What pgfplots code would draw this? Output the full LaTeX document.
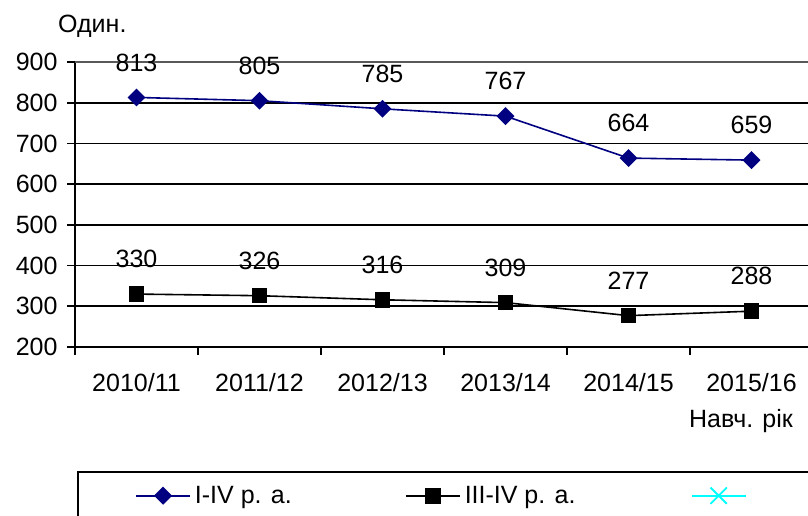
\documentclass[border=0pt]{standalone}
\usepackage{pgfplots}
\pgfplotsset{compat=1.18}
\usepackage{fontspec}
\setmainfont{Liberation Sans}
\definecolor{navyc}{RGB}{0,0,128}
\definecolor{cyc}{RGB}{0,255,255}
\newcommand{\ff}{\fontsize{25}{29}\selectfont}
\begin{document}
\begin{tikzpicture}
\useasboundingbox (0,0) rectangle (808pt,516pt);
\begin{axis}[
  at={(75pt,169pt)}, anchor=south west,
  scale only axis, width=738pt, height=285pt,
  xmin=-0.5, xmax=5.5, ymin=200, ymax=900,
  axis lines=left,
  axis line style={-, line width=1.6pt, black},
  ytick={200,300,...,800},
  extra y ticks={900},
  extra y tick style={grid style={gray!70!black, line width=1.6pt}},
  ymajorgrids,
  grid style={black, line width=1.6pt},
  xtick={-0.5,0.5,...,5.5},
  xticklabels={},
  extra x ticks={0,1,2,3,4,5},
  extra x tick labels={2010/11,2011/12,2012/13,2013/14,2014/15,2015/16},
  extra x tick style={major tick length=0pt, xticklabel style={anchor=center, yshift=-36pt}},
  tick align=outside,
  major tick length=8pt,
  tick style={black, line width=1.6pt},
  tick label style={font=\ff},
  yticklabel style={xshift=-6pt},
  /pgf/number format/assume math mode=true,
  clip=false,
  nodes near coords,
  every node near coord/.append style={font=\ff, black, anchor=center, yshift=35pt},
  legend columns=3,
  legend style={name=leg, at={(rel axis cs:0.004,-0.439)}, anchor=north west,
    draw=none, font=\ff, inner xsep=57pt, inner ysep=12pt,
    /tikz/every odd column/.append style={column sep=2pt}},
  legend cell align=left,
  legend image post style={line width=1.8pt},
  legend image code/.code={\draw[mark repeat=2,mark phase=2,#1] plot coordinates {(0pt,0pt)(27pt,0pt)(54pt,0pt)};},
]
\addplot[navyc, line width=1.6pt, mark=square*, mark size=5.5pt, mark options={rotate=45, fill=navyc}]
  coordinates {(0,813) (1,805) (2,785) (3,767) (4,664) (5,659)};
\addlegendentry{\makebox[208pt][l]{I-IV р. а.}}
\addplot[black, line width=1.6pt, mark=square*, mark size=7pt, mark options={fill=black}]
  coordinates {(0,330) (1,326) (2,316) (3,309) (4,277) (5,288)};
\addlegendentry{\makebox[224pt][l]{III-IV р. а.}}
\addlegendimage{cyc, line width=1.8pt, mark=x, mark size=11.5pt}
\addlegendentry{\makebox[200pt][l]{}}
\node[anchor=west, font=\ff, inner sep=0pt] at (rel axis cs:-0.023,1.126) {Один.};
\node[anchor=east, font=\ff, inner sep=0pt] at (rel axis cs:0.973,-0.26) {Навч. рік};
\end{axis}
\draw[line width=1.6pt] (leg.north west) rectangle ([yshift=-70pt]leg.north east);
\end{tikzpicture}
\end{document}
